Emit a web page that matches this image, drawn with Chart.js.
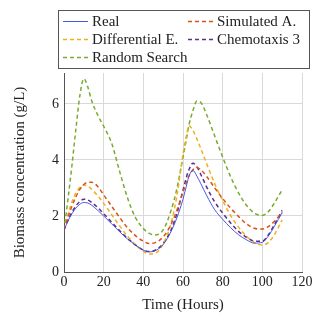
<!DOCTYPE html>
<html>
<head>
<meta charset="utf-8">
<script src="https://cdn.jsdelivr.net/npm/chart.js@4.4.1/dist/chart.umd.min.js"></script>
<style>
  html, body { margin: 0; padding: 0; background: #fff; }
  #wrap { width: 329px; height: 325px; }
</style>
</head>
<body>
<div id="wrap"><canvas id="chart" width="329" height="325"></canvas></div>
<script>
// time axis (hours)
const hours = [0, 2, 4, 6, 8, 10, 12, 14, 17, 20, 24, 28, 32, 36, 40, 43, 46, 50, 54, 57,
               60, 62, 63, 65, 67, 69, 72, 76, 80, 84, 88, 92, 96, 100, 103, 106, 110];

// biomass concentration (g/L)
const realData = [1.50, 1.82, 2.08, 2.28, 2.42, 2.48, 2.46, 2.38, 2.20, 2.00,
                  1.72, 1.44, 1.18, 0.96, 0.78, 0.72, 0.76, 0.98, 1.45, 1.95,
                  2.60, 3.15, 3.42, 3.62, 3.42, 3.15, 2.72, 2.22, 1.88, 1.58,
                  1.33, 1.15, 1.03, 1.06, 1.28, 1.62, 2.12];
const simulatedA = [1.50, 1.95, 2.35, 2.68, 2.95, 3.12, 3.20, 3.20, 3.05, 2.75,
                    2.35, 1.95, 1.58, 1.30, 1.10, 1.02, 1.05, 1.25, 1.70, 2.22,
                    2.85, 3.25, 3.42, 3.65, 3.73, 3.65, 3.40, 3.00, 2.62, 2.28,
                    1.98, 1.72, 1.56, 1.53, 1.62, 1.80, 2.12];
const differentialE = [1.50, 2.05, 2.50, 2.82, 3.02, 3.10, 3.06, 2.95, 2.72, 2.45,
                       2.05, 1.65, 1.28, 0.98, 0.74, 0.64, 0.67, 1.00, 1.75, 2.75,
                       4.20, 4.95, 5.22, 5.05, 4.75, 4.40, 3.85, 3.15, 2.55, 2.02,
                       1.60, 1.28, 1.05, 0.96, 1.05, 1.32, 1.86];
const chemotaxis3 = [1.50, 1.85, 2.13, 2.36, 2.52, 2.60, 2.57, 2.48, 2.30, 2.08,
                     1.78, 1.48, 1.20, 0.97, 0.78, 0.73, 0.78, 1.02, 1.50, 2.10,
                     2.92, 3.45, 3.65, 3.88, 3.75, 3.48, 3.02, 2.50, 2.10, 1.75,
                     1.45, 1.24, 1.10, 1.10, 1.32, 1.68, 2.20];
const randomSearch = [1.50, 2.60, 3.80, 5.10, 6.30, 6.90, 6.60, 6.10, 5.60, 5.20,
                      4.60, 3.60, 2.65, 1.95, 1.55, 1.38, 1.32, 1.50, 2.20, 3.00,
                      4.10, 4.85, 5.25, 5.75, 6.10, 6.05, 5.60, 4.85, 4.10, 3.40,
                      2.82, 2.38, 2.10, 2.02, 2.15, 2.45, 2.93];

const seriesNames = ["Real", "Simulated A.", "Differential E.", "Chemotaxis 3", "Random Search"];
const xTicks = [0, 20, 40, 60, 80, 100, 120];
const yTicks = [0, 2, 4, 6];

const FONT = "'Liberation Serif', 'DejaVu Serif', serif";

function toPoints(values) {
    return values.map((v, i) => ({ x: hours[i], y: v }));
}

function makeSet(label, values, color, dashed) {
    return {
        label: label,
        data: toPoints(values),
        borderColor: color,
        backgroundColor: color,
        borderWidth: dashed ? 1.5 : 0.9,
        borderDash: dashed ? [4, 3] : [],
        pointRadius: 0,
        fill: false,
        cubicInterpolationMode: "monotone"
    };
}

// legend in two columns inside a box above the plot
const boxLegend = {
    id: "boxLegend",
    afterDraw(chart) {
        const ctx = chart.ctx;
        const sets = chart.data.datasets;
        ctx.save();
        ctx.fillStyle = "#fff";
        ctx.fillRect(58.5, 10.5, 251, 58);
        ctx.strokeStyle = "#555";
        ctx.lineWidth = 1;
        ctx.strokeRect(58.5, 10.5, 251, 58);
        const slots = [[63, 21], [188, 21], [63, 39], [188, 39], [63, 57]];
        // order in legend: Real, Simulated, Differential, Chemotaxis, Random
        sets.forEach((ds, i) => {
            const [sx, sy] = slots[i];
            ctx.beginPath();
            ctx.strokeStyle = ds.borderColor;
            ctx.lineWidth = ds.borderWidth;
            ctx.setLineDash(ds.borderDash);
            ctx.moveTo(sx, sy + 0.5);
            ctx.lineTo(sx + 25, sy + 0.5);
            ctx.stroke();
            ctx.setLineDash([]);
            ctx.fillStyle = "#222";
            ctx.font = "15px " + FONT;
            ctx.textBaseline = "middle";
            ctx.textAlign = "left";
            ctx.fillText(ds.label, sx + 29, sy + 1);
        });
        ctx.restore();
    }
};

new Chart(document.getElementById("chart"), {
    type: "line",
    data: {
        datasets: [
            makeSet(seriesNames[0], realData, "rgb(55,70,220)", false),
            makeSet(seriesNames[1], simulatedA, "#d95319", true),
            makeSet(seriesNames[2], differentialE, "#edb120", true),
            makeSet(seriesNames[3], chemotaxis3, "#5b2d8e", true),
            makeSet(seriesNames[4], randomSearch, "#77ac30", true)
        ]
    },
    options: {
        responsive: false,
        animation: false,
        layout: { padding: { top: 73, right: 27, left: 0, bottom: 0 } },
        plugins: {
            legend: { display: false },
            tooltip: { enabled: false }
        },
        scales: {
            x: {
                type: "linear",
                min: 0,
                max: 120,
                afterFit: s => { s.height = 53; },
                afterBuildTicks: s => { s.ticks = xTicks.map(v => ({ value: v })); },
                ticks: { color: "#222", padding: 2, font: { family: FONT, size: 14 } },
                grid: { color: "#d9d9d9", drawTicks: false },
                border: { color: "#555", width: 1 },
                title: {
                    display: true,
                    text: "Time (Hours)",
                    color: "#222",
                    font: { family: FONT, size: 15 },
                    padding: { top: 0, bottom: 11 }
                }
            },
            y: {
                type: "linear",
                min: 0,
                max: 7.1,
                afterFit: s => { s.width = 64; },
                afterBuildTicks: s => { s.ticks = yTicks.map(v => ({ value: v })); },
                ticks: { color: "#222", padding: 5, font: { family: FONT, size: 14 } },
                grid: { color: "#d9d9d9", drawTicks: false },
                border: { color: "#555", width: 1 },
                title: {
                    display: true,
                    text: "Biomass concentration (g/L)",
                    color: "#222",
                    font: { family: FONT, size: 15 },
                    padding: { top: 11, bottom: 0 }
                }
            }
        }
    },
    plugins: [boxLegend]
});
</script>
</body>
</html>
